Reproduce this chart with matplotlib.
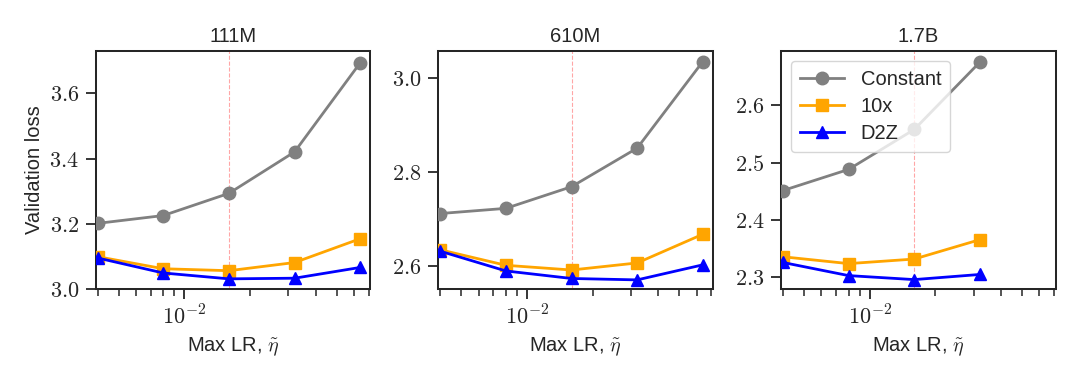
import matplotlib
matplotlib.use("Agg")
import matplotlib.pyplot as plt
from matplotlib.ticker import FuncFormatter, NullFormatter, MultipleLocator, LogLocator, FixedLocator

plt.rcParams['mathtext.fontset'] = 'cm'
plt.rcParams['font.family'] = ['Liberation Sans', 'DejaVu Sans']

titles = ["111M", "610M", "1.7B"]
lrs = [0.004, 0.008, 0.016, 0.032, 0.064]
opt_lr = 0.016

const_111m = [3.202, 3.226, 3.294, 3.421, 3.694]
tenx_111m = [3.100, 3.063, 3.057, 3.082, 3.155]
d2z_111m = [3.096, 3.050, 3.032, 3.034, 3.067]

const_610m = [2.711, 2.722, 2.768, 2.850, 3.034]
tenx_610m = [2.634, 2.601, 2.591, 2.606, 2.667]
d2z_610m = [2.631, 2.589, 2.573, 2.570, 2.602]

const_17b = [2.451, 2.488, 2.558, 2.676]
tenx_17b = [2.335, 2.323, 2.331, 2.365]
d2z_17b = [2.325, 2.302, 2.295, 2.304]

series_labels = ["Constant", "10x", "D2Z"]
series_colors = ["gray", "orange", "blue"]
series_markers = ["o", "s", "^"]

panels = [
    (const_111m, tenx_111m, d2z_111m),
    (const_610m, tenx_610m, d2z_610m),
    (const_17b, tenx_17b, d2z_17b),
]
ylims = [(3.0, 3.731), (2.55, 3.057), (2.278, 2.696)]
ysteps = [0.2, 0.2, 0.1]

W, H = 1080, 378
fig = plt.figure(figsize=(W / 100, H / 100), dpi=100)
lefts = [95.7, 438.3, 781.0]
aw = 274.5
top, bot = 50.7, 289.3

dark = "#262626"
for i, (left, data) in enumerate(zip(lefts, panels)):
    ax = fig.add_axes([left / W, 1 - bot / H, aw / W, (bot - top) / H])
    ax.axvline(opt_lr, color="red", alpha=0.35, lw=0.8, ls="--", zorder=1)
    for vals, lab, c, m in zip(data, series_labels, series_colors, series_markers):
        ax.plot(lrs[:len(vals)], vals, color=c, marker=m, lw=2, ms=9, label=lab, zorder=3)
    ax.set_xscale("log")
    ax.set_xlim(0.00392, 0.0711)
    ax.set_ylim(*ylims[i])
    ax.yaxis.set_major_locator(MultipleLocator(ysteps[i]))
    ax.yaxis.set_major_formatter(FuncFormatter(lambda v, p: f"${v:.1f}$"))
    ax.xaxis.set_major_locator(FixedLocator([0.01]))
    ax.xaxis.set_major_formatter(FuncFormatter(lambda v, p: r"$10^{-2}$"))
    ax.xaxis.set_minor_locator(LogLocator(base=10, subs=range(2, 10)))
    ax.xaxis.set_minor_formatter(NullFormatter())
    ax.tick_params(axis="both", which="major", length=7, width=1.3, color=dark,
                   labelsize=16, labelcolor=dark, direction="out", pad=5)
    ax.tick_params(axis="x", which="minor", length=5, width=1.1, color=dark, direction="out")
    for sp in ax.spines.values():
        sp.set_color(dark)
        sp.set_linewidth(1.45)
    ax.set_title(titles[i], fontsize=14.5, color=dark, pad=6.5)
    ax.set_xlabel(r"Max LR, $\tilde{\eta}$", fontsize=14.5, color=dark, labelpad=4)
    if i == 0:
        ax.set_ylabel("Validation loss", fontsize=14.5, color=dark)
    if i == 2:
        leg = ax.legend(loc="upper left", fontsize=14.5, framealpha=0.8,
                        edgecolor="#cccccc", borderpad=0.45, labelspacing=0.4,
                        handlelength=2.2)
        for t in leg.get_texts():
            t.set_color(dark)

fig.savefig("out.png", dpi=100)
